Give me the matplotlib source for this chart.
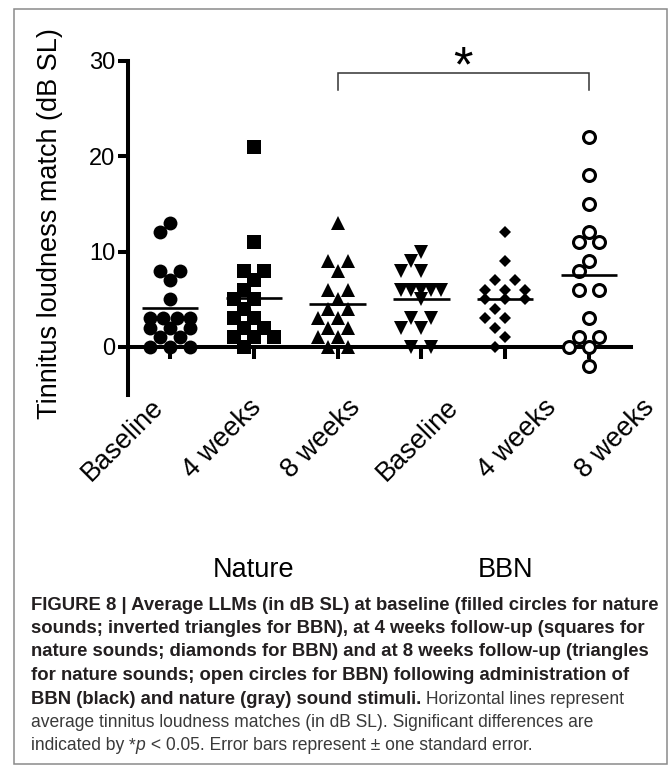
import numpy as np
import matplotlib
matplotlib.use('Agg')
import matplotlib.pyplot as plt
from matplotlib.patches import Rectangle

plt.rcParams['font.family'] = ['Liberation Sans', 'DejaVu Sans']

# ---------------- data ----------------
categories = ['Baseline', '4 weeks', '8 weeks', 'Baseline', '4 weeks', '8 weeks']
group_labels = ['Nature', 'BBN']

nature_baseline = [13, 12, 8, 8, 7, 5, 3, 3, 3, 3, 2, 2, 2, 1, 1, 0, 0, 0]
nature_4wk = [21, 11, 8, 8, 7, 6, 5, 5, 4, 3, 3, 2, 2, 1, 1, 1, 0]
nature_8wk = [13, 9, 9, 8, 6, 6, 5, 4, 4, 3, 3, 2, 2, 1, 1, 0, 0]
bbn_baseline = [10, 9, 8, 8, 6, 6, 6, 6, 6, 5, 3, 3, 2, 2, 0, 0]
bbn_4wk = [12, 9, 7, 7, 6, 6, 6, 5, 5, 5, 4, 3, 3, 2, 1, 0]
bbn_8wk = [22, 18, 15, 12, 11, 11, 9, 8, 6, 6, 3, 1, 1, 0, 0, -2]

yticks = [0, 10, 20, 30]
sig_pair = (2, 5)
sig_label = '*'

series = [nature_baseline, nature_4wk, nature_8wk, bbn_baseline, bbn_4wk, bbn_8wk]

# ---------------- styles ----------------
styles = [
    dict(marker='o', ms=10, mfc='black', mec='black', mew=0),
    dict(marker='s', ms=9.4, mfc='black', mec='black', mew=0),
    dict(marker='^', ms=10, mfc='black', mec='black', mew=0),
    dict(marker='v', ms=10, mfc='black', mec='black', mew=0),
    dict(marker='D', ms=6.6, mfc='black', mec='black', mew=0),
    dict(marker='o', ms=8.6, mfc='white', mec='black', mew=2.2),
]

W, H = 670, 765
fig = plt.figure(figsize=(W / 100, H / 100), dpi=100)

ax_left, ax_right = 128 / W, 631 / W
ax_top, ax_bottom = 1 - 60.7 / H, 1 - 394.7 / H
ax = fig.add_axes([ax_left, ax_bottom, ax_right - ax_left, ax_top - ax_bottom])
ax.set_xlim(-0.5, 5.5)
ax.set_ylim(-5, 30)

px_x = (ax_right - ax_left) * W / 6.0
px_y = (ax_top - ax_bottom) * H / 35.0


def swarm(values, slot=10.0, diam=13.0):
    vals = np.asarray(values, float)
    offs = np.zeros(len(vals))
    placed = []
    for u in sorted(set(vals), reverse=True):
        idx = np.where(vals == u)[0]
        n = len(idx)
        spacing = 20.0 if n < 2 else min(20.0, 40.0 / (n - 1))
        base = (np.arange(n) - (n - 1) / 2.0) * spacing
        y = u * px_y
        best_s, best_d = 0.0, -1
        for s in [0, -slot, slot, -2 * slot, 2 * slot]:
            xs = base + s
            if s != 0 and np.max(np.abs(xs)) > 25:
                continue
            if placed:
                P = np.array(placed)
                d = np.min(np.hypot(xs[:, None] - P[None, :, 0], y - P[None, :, 1]))
            else:
                d = np.inf
            if d >= diam:
                best_s = s
                break
            if d > best_d:
                best_d, best_s = d, s
        xs = base + best_s
        for k, i in enumerate(idx):
            offs[i] = xs[k] / px_x
            placed.append((xs[k], y))
    return offs


for i, (vals, st) in enumerate(zip(series, styles)):
    offs = swarm(vals)
    ax.plot(i + offs, vals, linestyle='none', clip_on=False, zorder=3, **st)
    m = np.mean(vals)
    ax.hlines(m, i - 0.335, i + 0.335, color='black', lw=1.9, zorder=4)

for s in ['top', 'right']:
    ax.spines[s].set_visible(False)
ax.spines['bottom'].set_position(('data', 0))
for s in ['left', 'bottom']:
    ax.spines[s].set_linewidth(2.9)
    ax.spines[s].set_zorder(2)

ax.set_yticks(yticks)
ax.set_yticklabels([str(t) for t in yticks], fontsize=17)
ax.tick_params(axis='y', direction='out', length=7, width=2.9, pad=2)
ax.set_xticks(range(len(categories)))
ax.set_xticklabels([])
ax.tick_params(axis='x', direction='out', length=8.6, width=2.9)

# rotated category labels
for i, lab in enumerate(categories):
    ax.text(-0.12 + 1.17 * i, -5.9, lab, rotation=45, rotation_mode='anchor',
            ha='right', va='center', fontsize=19.5, clip_on=False)

# group labels
for j, g in enumerate(group_labels):
    ax.text(1 + 3 * j, -24.1, g, ha='center', va='baseline', fontsize=19.5, clip_on=False)

# y label
fig.text(50 / W, 1 - 224 / H, 'Tinnitus loudness match (dB SL)', rotation=90,
         ha='center', va='center', fontsize=19.5)

# significance bracket
a, b = sig_pair
ax.plot([a, a, b, b], [26.9, 28.75, 28.75, 26.9], color='#333333', lw=1.1,
        clip_on=False, solid_joinstyle='miter')
ax.text((a + b) / 2, 27.85, sig_label, ha='center', va='baseline', fontsize=36, clip_on=False)

# border
fig.patches.append(Rectangle((14 / W, 1 - 763.5 / H), (667 - 14) / W, (763.5 - 9) / H,
                             transform=fig.transFigure, fill=False, ec='#8a8a8a', lw=1.1))

# ---------------- caption ----------------
renderer = fig.canvas.get_renderer()
bold_c = '#231f20'
reg_c = '#3a3a3a'


def width_of(text, **props):
    t = fig.text(0, 0, text + '|', **props)
    t2 = fig.text(0, 0, '|', **props)
    w = t.get_window_extent(renderer).width - t2.get_window_extent(renderer).width
    t.remove()
    t2.remove()
    return w


line1 = "FIGURE 8 | Average LLMs (in dB SL) at baseline (filled circles for nature"
line6 = "average tinnitus loudness matches (in dB SL). Significant differences are"
bsize = 10 * 628 / width_of(line1, fontsize=10, fontweight='bold')
rsize = 10 * 282 / width_of("average tinnitus loudness matches (", fontsize=10)

B = dict(fontsize=bsize, fontweight='bold', color=bold_c)
R = dict(fontsize=rsize, color=reg_c)
RI = dict(fontsize=rsize, color=reg_c, style='italic')

lines = [
    [(line1, B)],
    [("sounds; inverted triangles for BBN), at 4 weeks follow-up (squares for", B)],
    [("nature sounds; diamonds for BBN) and at 8 weeks follow-up (triangles", B)],
    [("for nature sounds; open circles for BBN) following administration of", B)],
    [("BBN (black) and nature (gray) sound stimuli. ", B), ("Horizontal lines represent", R)],
    [(line6, R)],
    [("indicated by ", R), ("*", R), ("p", RI), (" < 0.05. Error bars represent \u00b1 one standard error.", R)],
]
y0, dy = 609.5, 23.5
for k, runs in enumerate(lines):
    x = 31.0
    yb = y0 + k * dy
    for text, props in runs:
        fig.text(x / W, 1 - yb / H, text, ha='left', va='baseline', **props)
        x += width_of(text, **props)

fig.savefig('out.png', dpi=100)
